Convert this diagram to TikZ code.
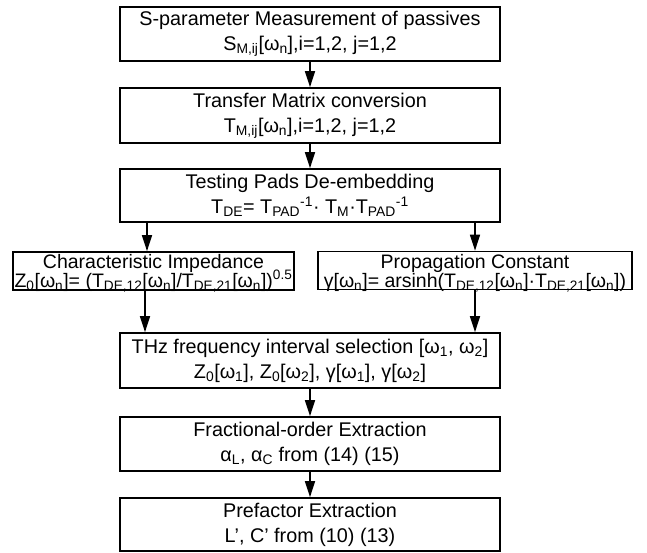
\documentclass[tikz,border=0pt]{standalone}
\usepackage{fontspec}
\setmainfont{Liberation Sans}
\usetikzlibrary{arrows.meta}
\newcommand\sbs[1]{\textsubscript{#1}}
\newcommand\sps[1]{\textsuperscript{#1}}
\newcommand\sidetext[3]{\parbox[c][38pt][t]{#1}{\lineskiplimit=-100pt\lineskip=0pt\baselineskip=19pt\centering\rule{0pt}{16.5pt}#2\\#3}}
\begin{document}
\begin{tikzpicture}[x=1pt,y=-1pt,
  box/.style={draw,line width=1.7pt,inner sep=0pt,align=center,
    font=\fontsize{19.8}{25}\selectfont},
  mainbox/.style={box,minimum width=380pt},
  sidebox/.style={draw,line width=1.7pt,inner sep=0pt,
    font=\fontsize{19.5}{19}\selectfont},
  arr/.style={line width=1.5pt,-{Triangle[length=16pt,width=10pt]}}]
\useasboundingbox (0,0) rectangle (647,552);
\node[mainbox,minimum height=54pt] (b1) at (310,34)
  {S-parameter Measurement of passives\\S\sbs{M,ij}[ω\sbs{n}],i=1,2, j=1,2};
\node[mainbox,minimum height=55pt] (b2) at (310,115.5)
  {Transfer Matrix conversion\\T\sbs{M,ij}[ω\sbs{n}],i=1,2, j=1,2};
\node[mainbox,minimum height=53pt] (b3) at (310,195.5)
  {Testing Pads De-embedding\\T\sbs{DE}= T\sbs{PAD}\sps{-1}· T\sbs{M}·T\sbs{PAD}\sps{-1}};
\node[sidebox] (ci) at (153.5,271)
  {\sidetext{281pt}{Characteristic Impedance}{Z\sbs{0}[ω\sbs{n}]= (T\sbs{DE,12}[ω\sbs{n}]/T\sbs{DE,21}[ω\sbs{n}])\sps{0.5}}};
\node[sidebox] (pc) at (475,270.5)
  {\sidetext{314pt}{Propagation Constant}{γ[ω\sbs{n}]= arsinh(T\sbs{DE,12}[ω\sbs{n}]·T\sbs{DE,21}[ω\sbs{n}])}};
\node[mainbox,minimum height=55pt] (b4) at (310,360.5)
  {THz frequency interval selection [ω\sbs{1}, ω\sbs{2}]\\Z\sbs{0}[ω\sbs{1}], Z\sbs{0}[ω\sbs{2}], γ[ω\sbs{1}], γ[ω\sbs{2}]};
\node[mainbox,minimum height=54pt] (b5) at (310,444)
  {Fractional-order Extraction\\α\sbs{L}, α\sbs{C} from (14) (15)};
\node[mainbox,minimum height=53pt] (b6) at (310,524.5)
  {Prefactor Extraction\\L’, C’ from (10) (13)};
\coordinate (lx1) at (147,0);
\coordinate (lx2) at (145,0);
\coordinate (rx) at (475,0);
\draw[arr] (b1) -- (b2);
\draw[arr] (b2) -- (b3);
\draw[arr] (b3.south -| lx1) -- (ci.north -| lx1);
\draw[arr] (b3.south -| rx) -- (pc.north -| rx);
\draw[arr] (ci.south -| lx2) -- (b4.north -| lx2);
\draw[arr] (pc.south -| rx) -- (b4.north -| rx);
\draw[arr] (b4) -- (b5);
\draw[arr] (b5) -- (b6);
\end{tikzpicture}
\end{document}
